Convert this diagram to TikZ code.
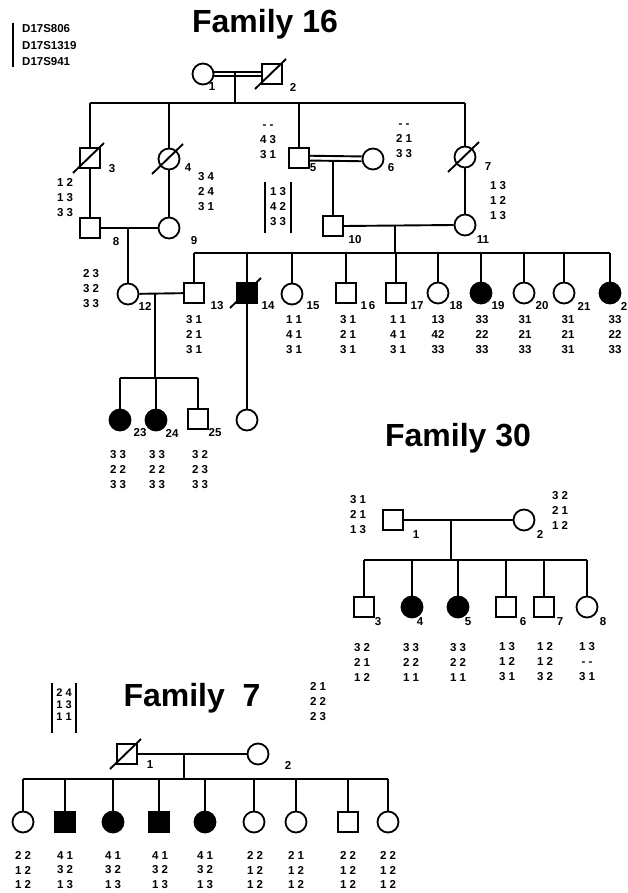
\documentclass[tikz,border=0pt]{standalone}
\usepackage{fontspec}
\setmainfont{Liberation Sans}
\newcommand\deadslash[1]{\draw[ln] (#1.center) ++(-17,15) -- ++(31,-30);}
\begin{document}
\begin{tikzpicture}[x=1pt,y=-1pt,
 ln/.style={line width=1.9pt},
 male/.style={draw, line width=1.8pt, rectangle, minimum size=20pt, inner sep=0pt},
 female/.style={draw, line width=1.8pt, circle, minimum size=21pt, inner sep=0pt},
 aff/.style={fill=black},
 al/.style={font=\bfseries\fontsize{11.5}{15}\selectfont, align=center, inner sep=0pt},
 al7/.style={font=\bfseries\fontsize{11.5}{14.5}\selectfont, align=center, inner sep=0pt},
 lab/.style={font=\bfseries\fontsize{11.5}{12}\selectfont, inner sep=0pt},
 ttl/.style={font=\bfseries\fontsize{32}{34}\selectfont, inner sep=0pt},
 leg/.style={font=\bfseries\fontsize{11.5}{16.5}\selectfont, align=left, inner sep=0pt, anchor=west},
]
\useasboundingbox[fill=white] (0,0) rectangle (627,893);

% ---------------- legend ----------------
\coordinate (lgA) at (13,23); \coordinate (lgB) at (13,67);
\draw[line width=1.5pt] (lgA) -- (lgB);
\node[leg] (legend) at (22,45.5) {D17S806\\D17S1319\\D17S941};

% ================= Family 16 =================
\node[ttl] (t16) at (265,24) {Family 16};

\node[female] (p1) at (203,74) {};
\node[male] (p2) at (272,74) {}; \deadslash{p2}
\node[lab] (l1) at (212,87) {1};
\node[lab] (l2) at (293,87) {2};
\draw[ln, transform canvas={yshift=2.4pt}] (p1) -- (p2);
\draw[ln, transform canvas={yshift=-2.4pt}] (p1) -- (p2);
\coordinate (c1) at (235,72);
\coordinate (s1) at (235,103);
\draw[ln] (c1) -- (s1);

\node[male] (p3) at (90,158) {}; \deadslash{p3}
\node[female] (p4) at (169,159) {}; \deadslash{p4}
\node[male] (p5) at (299,158) {};
\node[female] (p6) at (373,159) {};
\node[female] (p7) at (465,157) {}; \deadslash{p7}
\coordinate (s1L) at (90,103); \coordinate (s1R) at (465,103);
\draw[ln] (s1L) -- (s1R);
\foreach \n in {p3,p4,p5,p7} \draw[ln] (\n) -- (\n |- s1L);

\node[lab] (l3) at (112,169) {3};
\node[lab] (l4) at (188,168) {4};
\node[lab] (l5) at (313,168) {5};
\node[lab] (l6) at (391,168) {6};
\node[lab] (l7) at (488,167) {7};
\node[al] (a3) at (65,198) {1 2\\1 3\\3 3};
\node[al] (a4) at (206,192) {3 4\\2 4\\3 1};
\node[al] (a5) at (268,142) {- -\\4 3\\3 1};
\node[al] (a6) at (404,141) {- -\\2 1\\3 3};
\node[al] (a7) at (498,201) {1 3\\1 2\\1 3};

% boxed alleles
\coordinate (bx1) at (265,182); \coordinate (bx2) at (265,233);
\coordinate (bx3) at (291,182); \coordinate (bx4) at (291,233);
\draw[ln] (bx1) -- (bx2); \draw[ln] (bx3) -- (bx4);
\node[al] (abox) at (278,207) {1 3\\4 2\\3 3};

\draw[ln, transform canvas={yshift=2.4pt}] (p5) -- (p6);
\draw[ln, transform canvas={yshift=-2.4pt}] (p5) -- (p6);
\coordinate (c2) at (333,161);

\node[male] (p8) at (90,228) {};
\node[female] (p9) at (169,228) {};
\node[lab] (l8) at (116,242) {8};
\node[lab] (l9) at (194,241) {9};
\draw[ln] (p3) -- (p8);
\draw[ln] (p4) -- (p9);
\draw[ln] (p8) -- (p9);
\coordinate (c3) at (128,228);

\node[male] (p10) at (333,226) {};
\node[female] (p11) at (465,225) {};
\node[lab] (l10) at (355,240) {10};
\node[lab] (l11) at (483,240) {11};
\draw[ln] (c2) -- (p10);
\draw[ln] (p7) -- (p11);
\draw[ln] (p10.east) -- (p11.west);
\coordinate (c4) at (395,225.5);
\coordinate (s4) at (395,253);
\draw[ln] (c4) -- (s4);

% generation III
\node[female] (p12) at (128,294) {};
\node[male] (p13) at (194,293) {};
\node[male, aff] (p14) at (247,293) {}; \deadslash{p14}
\node[female] (p15) at (292,294) {};
\node[male] (p16) at (346,293) {};
\node[male] (p17) at (396,293) {};
\node[female] (p18) at (438,293) {};
\node[female, aff] (p19) at (481,293) {};
\node[female] (p20) at (524,293) {};
\node[female] (p21) at (564,293) {};
\node[female, aff] (p22) at (610,293) {};
\coordinate (s4L) at (194,253); \coordinate (s4R) at (610,253);
\draw[ln] (s4L) -- (s4R);
\foreach \n in {p13,p14,p15,p16,p17,p18,p19,p20,p21,p22} \draw[ln] (\n) -- (\n |- s4L);
\draw[ln] (c3) -- (p12);
\draw[ln] (p12) -- (p13);

\node[lab] (l12) at (145,306) {12};
\node[lab] (l13) at (217,306) {13};
\node[lab] (l14) at (268,306) {14};
\node[lab] (l15) at (313,306) {15};
\node[lab] (l16) at (368,306) {1\,6};
\node[lab] (l17) at (417,306) {17};
\node[lab] (l18) at (456,306) {18};
\node[lab] (l19) at (498,306) {19};
\node[lab] (l20) at (542,306) {20};
\node[lab] (l21) at (584,306) {21};
\node[lab] (l22) at (624,306) {2};

\node[al] (a12) at (91,289) {2 3\\3 2\\3 3};
\node[al] (a13) at (194,335) {3 1\\2 1\\3 1};
\node[al] (a15) at (294,335) {1 1\\4 1\\3 1};
\node[al] (a16) at (348,335) {3 1\\2 1\\3 1};
\node[al] (a17) at (398,335) {1 1\\4 1\\3 1};
\node[al] (a18) at (438,335) {13\\42\\33};
\node[al] (a19) at (482,335) {33\\22\\33};
\node[al] (a20) at (525,335) {31\\21\\33};
\node[al] (a21) at (568,335) {31\\21\\31};
\node[al] (a22) at (615,335) {33\\22\\33};

% generation IV
\coordinate (c5) at (155,293);
\coordinate (s5) at (155,378);
\draw[ln] (c5) -- (s5);
\node[female, aff] (p23) at (120,420) {};
\node[female, aff] (p24) at (156,420) {};
\node[male] (p25) at (198,419) {};
\node[female] (p26) at (247,420) {};
\coordinate (s5L) at (120,378); \coordinate (s5R) at (198,378);
\draw[ln] (s5L) -- (s5R);
\foreach \n in {p23,p24,p25} \draw[ln] (\n) -- (\n |- s5L);
\draw[ln] (p14) -- (p26);
\node[lab] (l23) at (140,433) {23};
\node[lab] (l24) at (172,433) {24};
\node[lab] (l25) at (215,433) {25};
\node[al] (a23) at (118,470) {3 3\\2 2\\3 3};
\node[al] (a24) at (157,470) {3 3\\2 2\\3 3};
\node[al] (a25) at (200,470) {3 2\\2 3\\3 3};

% ================= Family 30 =================
\node[ttl] (t30) at (458,438) {Family 30};
\node[male] (q1) at (393,520) {};
\node[female] (q2) at (524,520) {};
\draw[ln] (q1) -- (q2);
\node[lab] (m1) at (416,535) {1};
\node[lab] (m2) at (540,534) {2};
\node[al] (b1) at (358,515) {3 1\\2 1\\1 3};
\node[al] (b2) at (560,510) {3 2\\2 1\\1 2};
\coordinate (d1) at (451,520);
\coordinate (d2) at (451,560);
\draw[ln] (d1) -- (d2);
\coordinate (d3) at (364,560); \coordinate (d4) at (587,560);
\draw[ln] (d3) -- (d4);
\node[male] (q3) at (364,607) {};
\node[female, aff] (q4) at (412,607) {};
\node[female, aff] (q5) at (458,607) {};
\node[male] (q6) at (506,607) {};
\node[male] (q7) at (544,607) {};
\node[female] (q8) at (587,607) {};
\foreach \n in {q3,q4,q5,q6,q7,q8} \draw[ln] (\n) -- (\n |- d3);
\node[lab] (m3) at (378,622) {3};
\node[lab] (m4) at (420,622) {4};
\node[lab] (m5) at (468,622) {5};
\node[lab] (m6) at (523,622) {6};
\node[lab] (m7) at (560,622) {7};
\node[lab] (m8) at (603,622) {8};
\node[al] (b3) at (362,662) {3 2\\2 1\\1 2};
\node[al] (b4) at (411,662) {3 3\\2 2\\1 1};
\node[al] (b5) at (458,662) {3 3\\2 2\\1 1};
\node[al] (b6) at (507,662) {1 3\\1 2\\3 1};
\node[al] (b7) at (545,662) {1 2\\1 2\\3 2};
\node[al] (b8) at (587,662) {1 3\\- -\\3 1};

% ================= Family 7 =================
\node[ttl] (t7) at (192,698) {Family\ \ 7};
\coordinate (e1) at (52,683); \coordinate (e2) at (52,733);
\coordinate (e3) at (76,683); \coordinate (e4) at (76,733);
\draw[ln] (e1) -- (e2); \draw[ln] (e3) -- (e4);
\node[al, font=\bfseries\fontsize{11}{12}\selectfont] (g0) at (64,705) {2 4\\1 3\\1 1};
\node[al] (g00) at (318,702) {2 1\\2 2\\2 3};

\node[male] (r1) at (127,754) {}; \deadslash{r1}
\node[female] (r2) at (258,754) {};
\draw[ln] (r1) -- (r2);
\node[lab] (k1) at (150,765) {1};
\node[lab] (k2) at (288,765) {2};
\coordinate (h1) at (184,754);
\coordinate (h2) at (184,779);
\draw[ln] (h1) -- (h2);
\coordinate (h3) at (23,779); \coordinate (h4) at (388,779);
\draw[ln] (h3) -- (h4);
\node[female] (r3) at (23,822) {};
\node[male, aff] (r4) at (65,822) {};
\node[female, aff] (r5) at (113,822) {};
\node[male, aff] (r6) at (159,822) {};
\node[female, aff] (r7) at (205,822) {};
\node[female] (r8) at (254,822) {};
\node[female] (r9) at (296,822) {};
\node[male] (r10) at (348,822) {};
\node[female] (r11) at (388,822) {};
\foreach \n in {r3,r4,r5,r6,r7,r8,r9,r10,r11} \draw[ln] (\n) -- (\n |- h3);
\node[al7] (g1) at (23,870) {2 2\\1 2\\1 2};
\node[al7] (g2) at (65,870) {4 1\\3 2\\1 3};
\node[al7] (g3) at (113,870) {4 1\\3 2\\1 3};
\node[al7] (g4) at (160,870) {4 1\\3 2\\1 3};
\node[al7] (g5) at (205,870) {4 1\\3 2\\1 3};
\node[al7] (g6) at (255,870) {2 2\\1 2\\1 2};
\node[al7] (g7) at (296,870) {2 1\\1 2\\1 2};
\node[al7] (g8) at (348,870) {2 2\\1 2\\1 2};
\node[al7] (g9) at (388,870) {2 2\\1 2\\1 2};
\end{tikzpicture}
\end{document}
